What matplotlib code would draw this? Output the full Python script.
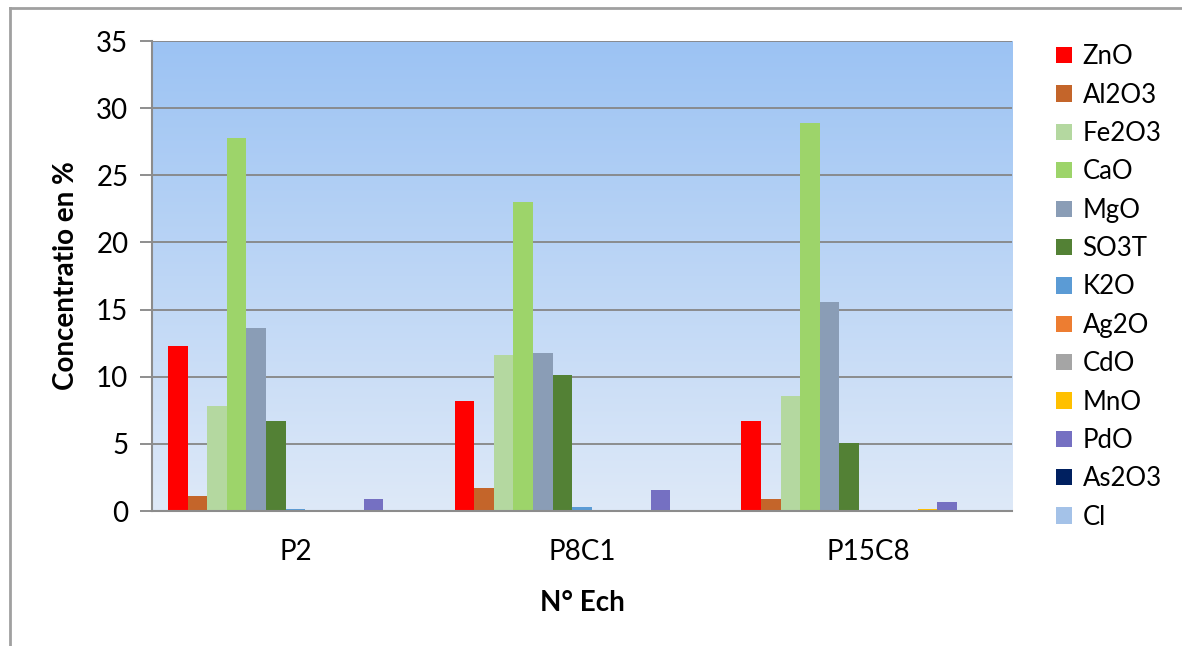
import numpy as np
import matplotlib
matplotlib.use("Agg")
import matplotlib.pyplot as plt
from matplotlib.lines import Line2D
from matplotlib.patches import Patch

plt.rcParams['font.family'] = ['Lato', 'DejaVu Sans']

samples = ["P2", "P8C1", "P15C8"]
oxides = ["ZnO", "Al2O3", "Fe2O3", "CaO", "MgO", "SO3T", "K2O",
          "Ag2O", "CdO", "MnO", "PdO", "As2O3", "Cl"]

# concentration (%) per oxide, one value per sample
ZnO   = [12.3, 8.2, 6.7]
Al2O3 = [1.1, 1.75, 0.9]
Fe2O3 = [7.8, 11.6, 8.6]
CaO   = [27.8, 23.0, 28.9]
MgO   = [13.65, 11.75, 15.6]
SO3T  = [6.7, 10.1, 5.05]
K2O   = [0.12, 0.3, 0.1]
Ag2O  = [0.0, 0.0, 0.0]
CdO   = [0.0, 0.0, 0.0]
MnO   = [0.08, 0.1, 0.15]
PdO   = [0.87, 1.57, 0.7]
As2O3 = [0.0, 0.0, 0.0]
Cl    = [0.08, 0.0, 0.05]

series = [ZnO, Al2O3, Fe2O3, CaO, MgO, SO3T, K2O, Ag2O, CdO, MnO, PdO, As2O3, Cl]
colors = ["#FF0000", "#C4652A", "#B4D8A0", "#9DD46A", "#8A9DB6", "#538135",
          "#5B9BD5", "#ED7D31", "#A5A5A5", "#FFC000", "#7570C2", "#002060",
          "#A4C2E8"]

W, H = 1182, 646
fig = plt.figure(figsize=(W / 100, H / 100), dpi=100)
fig.patch.set_facecolor("white")

ax = fig.add_axes([152 / W, 1 - 511 / H, (1012 - 152) / W, (511 - 41) / H])

# vertical gradient background of the plot area
top = np.array([0x9C, 0xC3, 0xF3]) / 255
bot = np.array([0xDE, 0xE9, 0xF8]) / 255
t = np.linspace(0, 1, 256)[:, None]
grad = (top * (1 - t) + bot * t)[:, None, :]
ax.imshow(grad, extent=[0, 1, 0, 1], transform=ax.transAxes,
          aspect="auto", zorder=0, interpolation="bilinear")

x = np.arange(len(samples))
n = len(series)
group = 0.888
w = group / n
for i, (vals, c) in enumerate(zip(series, colors)):
    pos = x - group / 2 + w * (i + 0.5)
    ax.bar(pos, vals, width=w, color=c, zorder=2, linewidth=0)

ax.set_xlim(-0.5, 2.5)
ax.set_ylim(0, 35)
ax.set_yticks(np.arange(0, 36, 5))
ax.yaxis.grid(True, color="#868686", linewidth=1.3)
for gl in ax.get_ygridlines():
    gl.set_zorder(1)

ax.set_xticks(x)
ax.set_xticklabels(samples)
ax.tick_params(axis="x", length=0, labelsize=20, pad=20, colors="#000000")
ax.tick_params(axis="y", length=9, width=1.3, color="#868686",
               labelsize=20, pad=8)

for s in ["top", "right"]:
    ax.spines[s].set_visible(False)
for s in ["left", "bottom"]:
    ax.spines[s].set_color("#8C8C8C")
    ax.spines[s].set_linewidth(1.5)

ax.set_ylabel("Concentratio en %", fontsize=20, fontweight="bold", labelpad=12)
ax.set_xlabel("N° Ech", fontsize=20, fontweight="bold", labelpad=18)

handles = [Patch(facecolor=c, edgecolor="none") for c in colors]
leg = fig.legend(handles, oxides, loc="upper left",
                 bbox_to_anchor=(1046 / W, 1 - 34 / H), frameon=False,
                 fontsize=18.5, handlelength=0.6, handleheight=0.6,
                 handletextpad=0.42, labelspacing=0.52, borderaxespad=0)

# outer chart frame
fig.add_artist(Line2D([10 / W, 10 / W], [0, 1 - 8 / H], transform=fig.transFigure,
                      color="#A0A0A0", linewidth=2))
fig.add_artist(Line2D([10 / W, 1], [1 - 8 / H, 1 - 8 / H], transform=fig.transFigure,
                      color="#A0A0A0", linewidth=2))

fig.savefig("out.png", dpi=100)
